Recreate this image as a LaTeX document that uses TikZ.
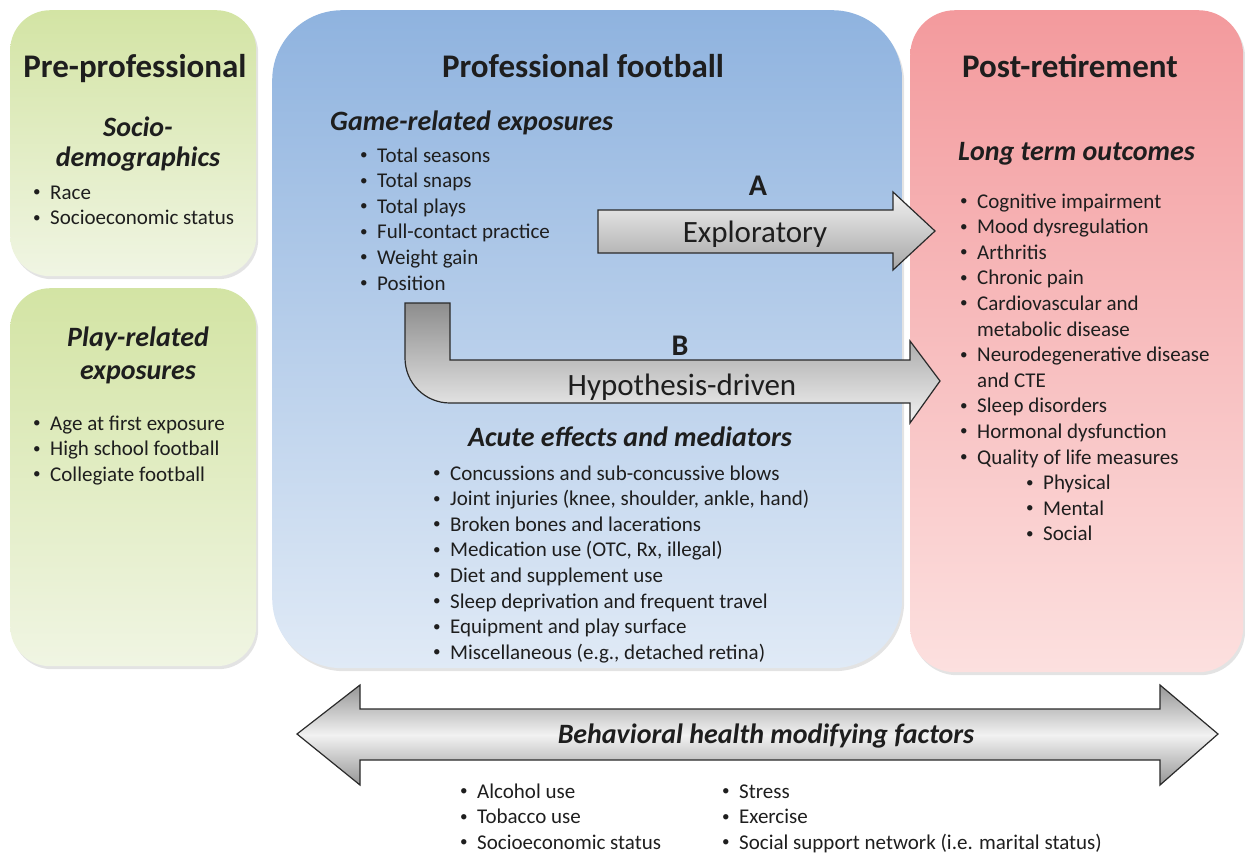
\documentclass[tikz,border=0pt]{standalone}
\usepackage{fontspec}
\setmainfont{Carlito}
\usetikzlibrary{shadows}
\definecolor{txt}{HTML}{1E1E1E}
\definecolor{grnT}{HTML}{D3E4A4}
\definecolor{grnB}{HTML}{F0F5E3}
\definecolor{bluT}{HTML}{8FB3DF}
\definecolor{bluB}{HTML}{E0EAF6}
\definecolor{pnkT}{HTML}{F39A9D}
\definecolor{pnkB}{HTML}{FCE0DF}
\definecolor{arrD}{HTML}{A6A6A6}
\definecolor{arrL}{HTML}{F2F2F2}
\definecolor{arrO}{HTML}{2A2A2A}
\newcommand{\bitem}[1]{\makebox[17pt][l]{\raisebox{0.12em}{\scalebox{0.72}{•}}}#1}
\newcommand{\bcont}[1]{\hspace*{17pt}#1}
\newcommand{\blist}[1]{\begin{tabular}[t]{@{}l@{}}#1\end{tabular}}
\begin{document}
\begin{tikzpicture}[x=1pt,y=-1pt,
  panel/.style={rounded corners=#1, draw=none, inner sep=0pt, anchor=north west,
    drop shadow={opacity=0.22,shadow xshift=2pt,shadow yshift=-3pt}},
  greenbox/.style={panel=40pt, top color=grnT, bottom color=grnB},
  bluebox/.style={panel=70pt, top color=bluT, bottom color=bluB},
  pinkbox/.style={panel=45pt, top color=pnkT, bottom color=pnkB},
  ttl/.style={font=\fontsize{33}{38}\selectfont\bfseries, text=txt, anchor=base, inner sep=0pt},
  subhd/.style={font=\fontsize{28}{34}\selectfont\bfseries\itshape, text=txt, anchor=base, inner sep=0pt},
  lbl/.style={font=\fontsize{30}{36}\selectfont\bfseries, text=txt, anchor=base, inner sep=0pt},
  arrtxt/.style={font=\fontsize{31}{36}\selectfont, text=txt, anchor=base, inner sep=0pt},
  bl/.style={font=\fontsize{21}{25.6}\selectfont, text=txt, anchor=base west, inner sep=0pt},
  blockarrow/.style={draw=arrO, line width=1.2pt, line join=miter}
]
\useasboundingbox (0,0) rectangle (1245,852);

% panels
\node[greenbox, minimum width=246pt, minimum height=266pt] (pre) at (10,10) {};
\node[greenbox, minimum width=246pt, minimum height=378pt] (play) at (10,288) {};
\node[bluebox, minimum width=630pt, minimum height=658pt] (pro) at (272,10) {};
\node[pinkbox, minimum width=333pt, minimum height=662pt] (post) at (910,10) {};

% titles
\node[ttl] (tpre) at (135,77) {Pre-professional};
\node[ttl] (tpro) at (583,77) {Professional football};
\node[ttl] (tpost) at (1070,77) {Post-retirement};

% left top
\node[subhd] (soc1) at (138,136) {Socio-};
\node[subhd] (soc2) at (138,166) {demographics};
\node[bl] (socl) at (33,199) {\blist{\bitem{Race}\\ \bitem{Socioeconomic status}}};

% left bottom
\node[subhd] (pl1) at (138,346) {Play-related};
\node[subhd] (pl2) at (138,379) {exposures};
\node[bl] (pll) at (33,430) {\blist{\bitem{Age at first exposure}\\ \bitem{High school football}\\ \bitem{Collegiate football}}};

% professional
\node[subhd, anchor=base west] (game) at (330,130) {Game-related exposures};
\node[bl] (gamel) at (360,162) {\blist{\bitem{Total seasons}\\ \bitem{Total snaps}\\ \bitem{Total plays}\\ \bitem{Full-contact practice}\\ \bitem{Weight gain}\\ \bitem{Position}}};
\node[subhd] (acute) at (630,446) {Acute effects and mediators};
\node[bl] (acutel) at (433,480) {\blist{\bitem{Concussions and sub-concussive blows}\\ \bitem{Joint injuries (knee, shoulder, ankle, hand)}\\ \bitem{Broken bones and lacerations}\\ \bitem{Medication use (OTC, Rx, illegal)}\\ \bitem{Diet and supplement use}\\ \bitem{Sleep deprivation and frequent travel}\\ \bitem{Equipment and play surface}\\ \bitem{Miscellaneous (e.g., detached retina)}}};

% post retirement
\node[subhd, anchor=base west] (long) at (958,160) {Long term outcomes};
\node[bl] (longl) at (960,208) {\blist{\bitem{Cognitive impairment}\\ \bitem{Mood dysregulation}\\ \bitem{Arthritis}\\ \bitem{Chronic pain}\\ \bitem{Cardiovascular and}\\ \bcont{metabolic disease}\\ \bitem{Neurodegenerative disease}\\ \bcont{and CTE}\\ \bitem{Sleep disorders}\\ \bitem{Hormonal dysfunction}\\ \bitem{Quality of life measures}\\ \hspace*{66pt}\bitem{Physical}\\ \hspace*{66pt}\bitem{Mental}\\ \hspace*{66pt}\bitem{Social}}};

% arrow A
\path[blockarrow, top color=arrL, bottom color=arrD]
  (598,210) -- (893,210) -- (893,192) -- (935,231) -- (893,270) -- (893,253) -- (598,253) -- cycle;
\node[lbl] (la) at (758,195) {A};
\node[arrtxt] (ea) at (755,242) {Exploratory};

% arrow B
\path[blockarrow, top color=arrD!85!black, bottom color=arrL]
  (405,303) -- (450,303) -- (450,360) -- (910,360) -- (910,341) -- (940,381) -- (910,423) -- (910,403)
  -- (450,403) .. controls (425,403) and (405,383) .. (405,358) -- cycle;
\node[lbl] (lb) at (680,355) {B};
\node[arrtxt] (eb) at (682,395) {Hypothesis-driven};

% double arrow
\path[blockarrow, top color=arrD!90!black, bottom color=arrD!90!black, middle color=arrL]
  (297,734) -- (360,685) -- (360,709) -- (1160,709) -- (1160,685) -- (1218,734)
  -- (1160,785) -- (1160,760) -- (360,760) -- (360,785) -- cycle;
\node[subhd] (beh) at (766,743) {Behavioral health modifying factors};
\node[bl] (behl1) at (460,798) {\blist{\bitem{Alcohol use}\\ \bitem{Tobacco use}\\ \bitem{Socioeconomic status}}};
\node[bl] (behl2) at (722,798) {\blist{\bitem{Stress}\\ \bitem{Exercise}\\ \bitem{Social support network (i.e. marital status)}}};
\end{tikzpicture}
\end{document}
